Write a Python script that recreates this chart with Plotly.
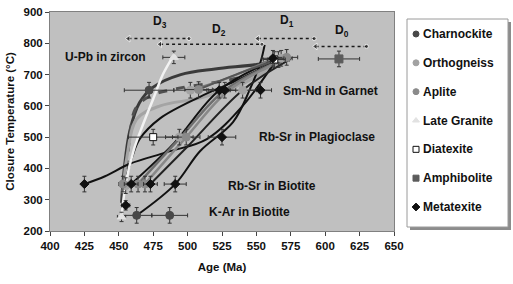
import plotly.graph_objects as go

FONT = "Liberation Sans, Arial, sans-serif"

# ---------------- data ----------------
# cooling paths (smoothed curves)
path_charn_x = [452, 454, 458, 465, 475, 495, 520, 550, 570]
path_charn_y = [290, 400, 520, 610, 660, 700, 718, 732, 748]
path_dash_x = [455, 456, 458, 462, 472, 492, 520, 550, 568]
path_dash_y = [340, 420, 500, 590, 630, 655, 675, 705, 745]
path_light_x = [453, 456, 463, 480, 509, 540, 570]
path_light_y = [320, 440, 558, 600, 625, 670, 750]
path_white_x = [452, 455, 461, 468, 475, 482, 489]
path_white_y = [245, 350, 461, 545, 622, 700, 755]
path_black1_x = [456, 460, 465, 480, 509, 535, 565]
path_black1_y = [380, 440, 493, 560, 629, 680, 745]
path_meta1_x = [425, 440, 458, 485, 514, 540, 565]
path_meta1_y = [350, 375, 415, 452, 494, 600, 750]
path_black2_x = [463, 491, 509, 533, 545, 553, 556]
path_black2_y = [250, 350, 455, 548, 650, 740, 795]
path_a_x = [459, 490, 523, 565]
path_a_y = [350, 480, 650, 750]
path_b_x = [464, 495, 527, 570]
path_b_y = [350, 500, 650, 750]
path_c_x = [469, 499, 530, 572]
path_c_y = [350, 500, 650, 752]
path_d_x = [473, 500, 540, 575]
path_d_y = [350, 470, 650, 750]
path_e_x = [502, 530, 562]
path_e_y = [650, 690, 752]
path_f_x = [508, 535, 566]
path_f_y = [652, 700, 748]

paths = [
    ("#3a3a3a", 3.0, "solid", path_charn_x, path_charn_y),
    ("#505050", 3.0, "dash", path_dash_x, path_dash_y),
    ("#a4a4a4", 3.0, "solid", path_light_x, path_light_y),
    ("#111111", 2.0, "solid", path_black1_x, path_black1_y),
    ("#111111", 2.0, "solid", path_meta1_x, path_meta1_y),
    ("#111111", 2.0, "solid", path_black2_x, path_black2_y),
    ("#111111", 2.0, "solid", path_a_x, path_a_y),
    ("#6e6e6e", 2.5, "solid", path_b_x, path_b_y),
    ("#888888", 2.5, "solid", path_c_x, path_c_y),
    ("#222222", 2.0, "solid", path_d_x, path_d_y),
    ("#777777", 2.0, "solid", path_e_x, path_e_y),
    ("#555555", 2.0, "solid", path_f_x, path_f_y),
    ("#f2f2f2", 2.5, "solid", path_white_x, path_white_y),
]

# sample points (age, temperature, age error, temperature error)
charn_x = [472, 463, 487, 566]
charn_y = [650, 250, 250, 748]
charn_ex = [18, 11, 13, 8]
charn_ey = [25, 25, 25, 25]

ortho_x = [502, 540, 494, 568, 455]
ortho_y = [650, 650, 500, 752, 345]
ortho_ex = [12, 10, 10, 8, 3]
ortho_ey = [25, 25, 25, 25, 25]

aplite_x = [508, 499, 572, 464, 469, 453]
aplite_y = [652, 500, 755, 350, 350, 350]
aplite_ex = [10, 10, 8, 5, 5, 3]
aplite_ey = [25, 25, 25, 25, 25, 25]

lgran_x = [490, 452]
lgran_y = [755, 245]
lgran_ex = [8, 3]
lgran_ey = [20, 15]

diat_x = [475, 563]
diat_y = [500, 748]
diat_ex = [18, 8]
diat_ey = [25, 25]

amph_x = [610]
amph_y = [750]
amph_ex = [15]
amph_ey = [25]

meta_x = [425, 459, 473, 491, 525, 523, 527, 553, 562, 455]
meta_y = [350, 350, 350, 350, 500, 650, 650, 650, 752, 282]
meta_ex = [0, 5, 5, 8, 10, 8, 8, 8, 8, 3]
meta_ey = [25, 25, 25, 25, 25, 25, 25, 25, 25, 15]

legend_names = ["Charnockite", "Orthogneiss", "Aplite", "Late Granite",
                "Diatexite", "Amphibolite", "Metatexite"]
legend_symbols = ["circle", "circle", "circle", "triangle-up",
                  "square", "square", "diamond"]
legend_fill = ["#484848", "#a2a2a2", "#8a8a8a", "#e2e2e2",
               "#ffffff", "#5c5c5c", "#111111"]
legend_edge = ["#484848", "#a2a2a2", "#8a8a8a", "#e2e2e2",
               "#111111", "#5c5c5c", "#111111"]
marker_size = [8, 8, 8, 8, 7, 8, 7]

series_x = [charn_x, ortho_x, aplite_x, lgran_x, diat_x, amph_x, meta_x]
series_y = [charn_y, ortho_y, aplite_y, lgran_y, diat_y, amph_y, meta_y]
series_ex = [charn_ex, ortho_ex, aplite_ex, lgran_ex, diat_ex, amph_ex, meta_ex]
series_ey = [charn_ey, ortho_ey, aplite_ey, lgran_ey, diat_ey, amph_ey, meta_ey]

# deformation stages (dotted double arrows)
stage_names = ["D<sub>3</sub>", "D<sub>2</sub>", "D<sub>1</sub>", "D<sub>0</sub>"]
stage_start = [457, 480, 551, 593]
stage_end = [501, 554, 592, 630]
stage_level = [815, 797, 815, 790]
stage_label_x = [480, 523, 572, 612]
stage_label_y = [868, 842, 871, 838]

# closure-temperature system labels
sys_names = ["U-Pb in zircon", "Sm-Nd in Garnet", "Rb-Sr in Plagioclase",
             "Rb-Sr in Biotite", "K-Ar in Biotite"]
sys_x = [440, 604, 594, 561, 545]
sys_y = [757, 648, 500, 345, 261]

# ---------------- figure ----------------
W, H = 513, 284
ML, MR, MT, MB = 50, 5, 12, 53
PW = W - ML - MR
PH = H - MT - MB
main_right = 394            # right edge of the chart frame (px)
box_l, box_r, box_t, box_b = 407, 508, 19, 227   # legend frame (px)

fig = go.Figure()

for col, w, dash, xs, ys in paths:
    fig.add_trace(go.Scatter(x=xs, y=ys, mode="lines", showlegend=False,
                             hoverinfo="skip",
                             line=dict(color=col, width=w, dash=dash,
                                       shape="spline", smoothing=1.0)))

for sx, ex, sy in zip(stage_start, stage_end, stage_level):
    fig.add_trace(go.Scatter(x=[sx, ex], y=[sy, sy], mode="lines+markers",
                             showlegend=False, hoverinfo="skip",
                             line=dict(color="#1a1a1a", width=1.5, dash="dot"),
                             marker=dict(symbol=["triangle-left", "circle"],
                                         size=[6, 4], color="#1a1a1a")))

for i, name in enumerate(legend_names):
    fig.add_trace(go.Scatter(
        x=series_x[i], y=series_y[i], mode="markers", name=name, showlegend=False,
        marker=dict(symbol=legend_symbols[i], color=legend_fill[i], size=marker_size[i],
                    line=dict(color=legend_edge[i], width=1)),
        error_x=dict(type="data", array=series_ex[i], color="#333333", thickness=1, width=2),
        error_y=dict(type="data", array=series_ey[i], color="#333333", thickness=1, width=2),
    ))

# legend symbols drawn on a small overlay axis placed where the legend box sits
fig.add_trace(go.Scatter(
    x=[9] * len(legend_names), y=list(range(len(legend_names))),
    xaxis="x2", yaxis="y2", mode="markers", showlegend=False, hoverinfo="skip",
    marker=dict(symbol=legend_symbols, color=legend_fill, size=6,
                line=dict(color=legend_edge, width=1)),
))
for i, name in enumerate(legend_names):
    fig.add_annotation(xref="x2", yref="y2", x=15, y=i, text=name, showarrow=False,
                       xanchor="left", yanchor="middle", borderpad=0,
                       font=dict(family=FONT, size=12, color="#111", weight="bold"))

for nm, x, y in zip(stage_names, stage_label_x, stage_label_y):
    fig.add_annotation(x=x, y=y, text=nm, showarrow=False,
                       font=dict(family=FONT, size=12, color="#111", weight="bold"))

for nm, x, y in zip(sys_names, sys_x, sys_y):
    fig.add_annotation(x=x, y=y, text=nm, showarrow=False,
                       font=dict(family=FONT, size=12, color="#111", weight="bold"))

# backgrounds: gray chart area, legend frame with drop shadow
fig.add_shape(type="rect", xref="x domain", yref="y domain", x0=0, x1=1, y0=0, y1=1,
              fillcolor="#c0c0c0", line=dict(width=0), layer="below")
bw, bh = box_r - box_l, box_b - box_t
fig.add_shape(type="rect", xref="x2 domain", yref="y2 domain",
              x0=3 / bw, x1=1 + 3 / bw, y0=-3 / bh, y1=1 - 3 / bh,
              fillcolor="#8c8c8c", line=dict(width=0), layer="below")
fig.add_shape(type="rect", xref="x2 domain", yref="y2 domain", x0=0, x1=1, y0=0, y1=1,
              fillcolor="white", line=dict(color="#9a9a9a", width=1), layer="below")

axis_font = dict(family=FONT, size=11.5, color="#111", weight="bold")
fig.update_layout(
    xaxis=dict(domain=[0, (main_right - ML) / PW], range=[400, 650], tick0=400, dtick=25,
               ticks="outside", ticklen=4, tickcolor="#444", showline=True,
               linecolor="#808080", mirror=True, showgrid=False, zeroline=False,
               automargin=False,
               tickfont=axis_font, title=dict(text="Age (Ma)", font=axis_font, standoff=12)),
    yaxis=dict(range=[200, 900], tick0=200, dtick=100, ticks="outside", ticklen=4,
               tickcolor="#444", showline=True, linecolor="#808080", mirror=True,
               showgrid=False, zeroline=False, tickfont=axis_font, automargin=False,
               title=dict(text="Closure Temperature (°C)", font=axis_font, standoff=6)),
    xaxis2=dict(domain=[(box_l - ML) / PW, (box_r - ML) / PW], range=[0, bw],
                visible=False, anchor="y2", fixedrange=True, automargin=False),
    yaxis2=dict(domain=[(MT + PH - box_b) / PH, (MT + PH - box_t) / PH],
                range=[6 + (bh - 188) / 28.83, -15 / 28.83], automargin=False,
                visible=False, anchor="x2", fixedrange=True),
    width=W, height=H,
    margin=dict(l=ML, r=MR, t=MT, b=MB, autoexpand=False),
    paper_bgcolor="white", plot_bgcolor="white",
    font=dict(family=FONT), showlegend=False,
)

fig.write_html("out.html", config={"displayModeBar": False},
               post_script="document.body.style.margin='0';document.body.style.overflow='hidden';")
